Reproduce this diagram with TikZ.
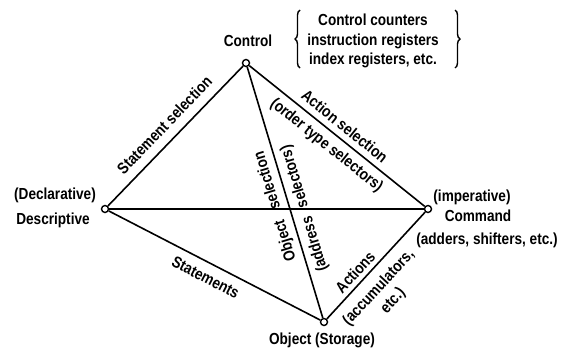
\documentclass[tikz,border=0pt]{standalone}
\usepackage{fontspec}
\setmainfont{Liberation Sans}[FakeStretch=0.85]
\usetikzlibrary{decorations.pathreplacing}
\begin{document}
\begin{tikzpicture}[x=1pt,y=-1pt,
  vtx/.style={circle,draw,line width=1.4pt,fill=white,minimum size=7pt,inner sep=0pt},
  edge/.style={line width=1.6pt},
  lbl/.style={font=\fontsize{16}{19.5}\selectfont\bfseries,inner sep=0pt},
  elbl/.style={lbl,sloped,text height=11.5pt,text depth=3pt},
  brc/.style={decorate,decoration={brace,amplitude=5pt},line width=1.4pt}]
\useasboundingbox (0,0) rectangle (564,354);
% vertices
\node[vtx] (ctl) at (246,63) {};
\node[vtx] (des) at (105,209) {};
\node[vtx] (cmd) at (428,209) {};
\node[vtx] (obj) at (324,322) {};
% vertex texts
\node[lbl] (ctltxt) at (248,41) {Control};
\node[lbl,align=center] (regs) at (373,41) {Control counters\\instruction registers\\index registers, etc.};
\draw[brc] (300,68) -- (300,10);
\draw[brc] (455,10) -- (455,68);
\node[lbl] (decl) at (55,195) {(Declarative)};
\node[lbl] (desc) at (53,220) {Descriptive};
\node[lbl] (imp) at (472,197) {(imperative)};
\node[lbl] (cmdtxt) at (478,216) {Command};
\node[lbl] (adders) at (487,240) {(adders, shifters, etc.)};
\node[lbl] (objtxt) at (322,340) {Object (Storage)};
% edges
\draw[edge] (des) -- (cmd);
\draw[edge] (des) -- node[elbl,above=6pt,pos=0.5] {Statement selection} (ctl);
\draw[edge] (ctl) -- node[elbl,above=3pt,pos=0.5] {Action selection}
                    node[elbl,below=6pt,pos=0.49] {(order type selectors)} (cmd);
\draw[edge] (des) -- node[elbl,below=8pt,pos=0.49] {Statements} (obj);
\draw[edge] (obj) -- node[elbl,above=1.5pt,pos=0.37] {Actions}
                    node[lbl,sloped,align=center,below=9pt,pos=0.40] {(accumulators,\\etc.)} (cmd);
\draw[edge] (obj) -- node[elbl,allow upside down,above=5pt,pos=0.46] {Object\hspace{12pt}selection}
                    node[elbl,allow upside down,below=6pt,pos=0.42] {(address\hspace{10pt}selectors)} (ctl);
\end{tikzpicture}
\end{document}
